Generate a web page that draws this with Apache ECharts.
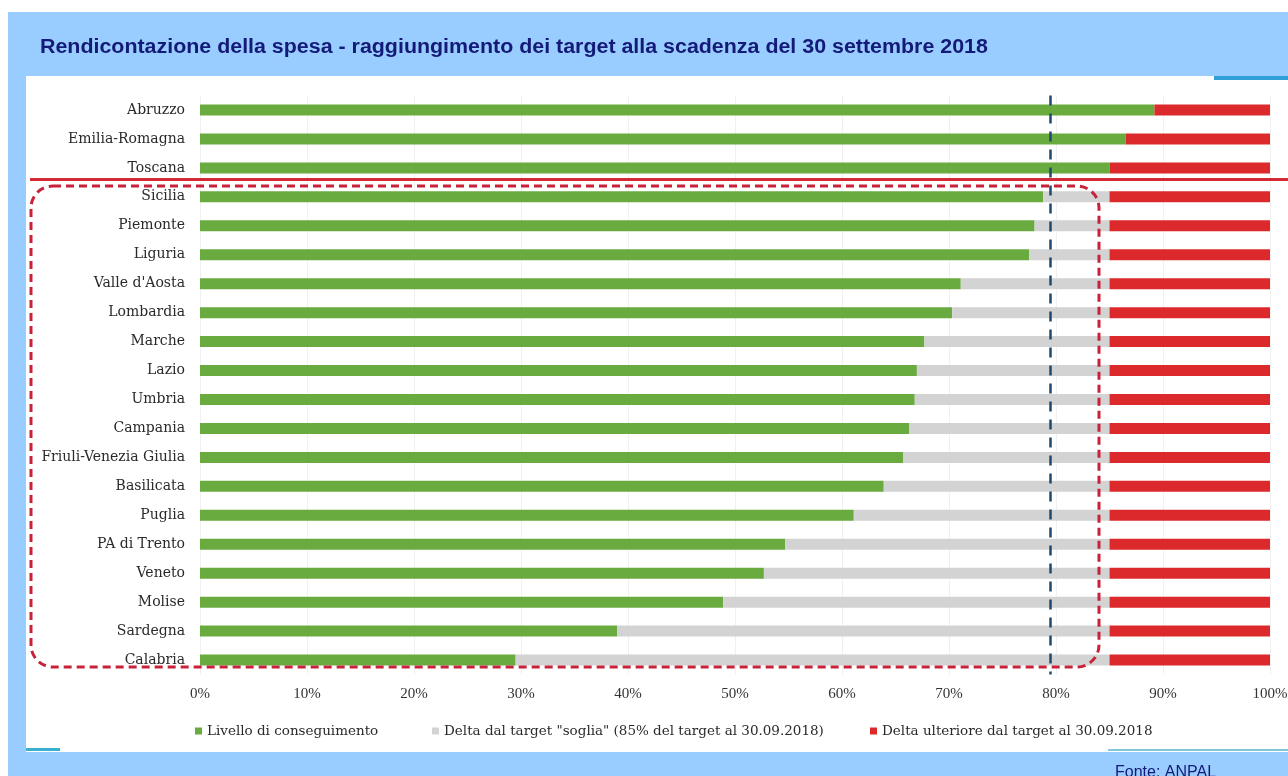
<!DOCTYPE html>
<html>
<head>
<meta charset="utf-8">
<script src="https://cdn.jsdelivr.net/npm/echarts@6/dist/echarts.min.js"></script>
<style>
html,body{margin:0;padding:0;background:#fff;}
#c{width:1288px;height:776px;}
</style>
</head>
<body>
<div id="c"></div>
<script>
var titleText = 'Rendicontazione della spesa - raggiungimento dei target alla scadenza del 30 settembre 2018';
var sourceText = 'Fonte: ANPAL';
var regions = ['Abruzzo','Emilia-Romagna','Toscana','Sicilia','Piemonte','Liguria',"Valle d'Aosta",'Lombardia','Marche','Lazio','Umbria','Campania','Friuli-Venezia Giulia','Basilicata','Puglia','PA di Trento','Veneto','Molise','Sardegna','Calabria'];
var livello = [89.2,86.5,85.0,78.8,78.0,77.5,71.1,70.3,67.7,67.0,66.8,66.3,65.7,63.9,61.1,54.7,52.7,48.9,39.0,29.5];
var deltaSoglia = [0,0,0,6.2,7.0,7.5,13.9,14.7,17.3,18.0,18.2,18.7,19.3,21.1,23.9,30.3,32.3,36.1,46.0,55.5];
var deltaUlteriore = [10.8,13.5,15.0,15,15,15,15,15,15,15,15,15,15,15,15,15,15,15,15,15];
var seriesNames = ['Livello di conseguimento','Delta dal target "soglia" (85% del target al 30.09.2018)','Delta ulteriore dal target al 30.09.2018'];
var thresholdLine = 79.5;

var serif = '"DejaVu Serif","Liberation Serif",serif';
var legendLefts = [190, 427, 865];
var legends = seriesNames.map(function(n, i){
  return {
    left:legendLefts[i], top:719, itemWidth:7, itemHeight:7, icon:'rect',
    textStyle:{fontFamily:serif,fontSize:13.5,color:'#2a2a2a'},
    data:[n]
  };
});
var chart = echarts.init(document.getElementById('c'));
chart.setOption({
  animation:false,
  backgroundColor:'#ffffff',
  graphic:[
    {type:'rect',z:-10,shape:{x:8,y:12,width:1280,height:764},style:{fill:'#99ccff'},silent:true},
    {type:'rect',z:-9,shape:{x:26,y:76,width:1262,height:676},style:{fill:'#ffffff'},silent:true},
    {type:'rect',z:-8,shape:{x:1214,y:76,width:74,height:4},style:{fill:'#2f9fd8'},silent:true},
    {type:'rect',z:-8,shape:{x:26,y:748,width:34,height:3},style:{fill:'#3ab0d0'},silent:true},
    {type:'rect',z:-8,shape:{x:1108,y:749,width:180,height:2},style:{fill:'#7fc6d8'},silent:true},
    {type:'text',x:40,y:37,scaleX:1.07,style:{text:titleText,fill:'#141a78',font:'bold 20px "Liberation Sans",Arial,sans-serif'}},
    {type:'text',left:1115,top:765,style:{text:sourceText,fill:'#141a78',font:'16px "Liberation Sans",Arial,sans-serif'}},
    {type:'line',z:50,shape:{x1:30,y1:179.5,x2:1288,y2:179.5},style:{stroke:'#d42a35',lineWidth:3}},
    {type:'rect',z:50,shape:{x:31,y:186,width:1068,height:481,r:22},style:{fill:null,stroke:'#c8213a',lineWidth:3,lineDash:[8,5]}}
  ],
  legend:legends,
  grid:{left:200,right:18,top:95.5,bottom:101.5,containLabel:false,outerBoundsMode:'none'},
  xAxis:{
    type:'value',min:0,max:100,interval:10,
    axisLine:{show:false},axisTick:{show:false},
    splitLine:{show:true,lineStyle:{color:'#f0f0f0',width:1}},
    axisLabel:{formatter:'{value}%',fontFamily:'"Liberation Serif",serif',fontSize:15,color:'#333',margin:12}
  },
  yAxis:{
    type:'category',inverse:true,data:regions,
    axisLine:{show:false},axisTick:{show:false},
    axisLabel:{fontFamily:serif,fontSize:14,color:'#2a2a2a',margin:15}
  },
  series:[
    {name:seriesNames[0],type:'bar',stack:'t',data:livello,barWidth:11,itemStyle:{color:'#6aab3f'},
     markLine:{silent:true,symbol:'none',label:{show:false},lineStyle:{color:'#1e4a72',width:2.5,type:[10,8]},data:[{xAxis:thresholdLine}]}},
    {name:seriesNames[1],type:'bar',stack:'t',data:deltaSoglia,barWidth:11,itemStyle:{color:'#d3d3d3'}},
    {name:seriesNames[2],type:'bar',stack:'t',data:deltaUlteriore,barWidth:11,itemStyle:{color:'#dc2a2c'}}
  ]
});
</script>
</body>
</html>
